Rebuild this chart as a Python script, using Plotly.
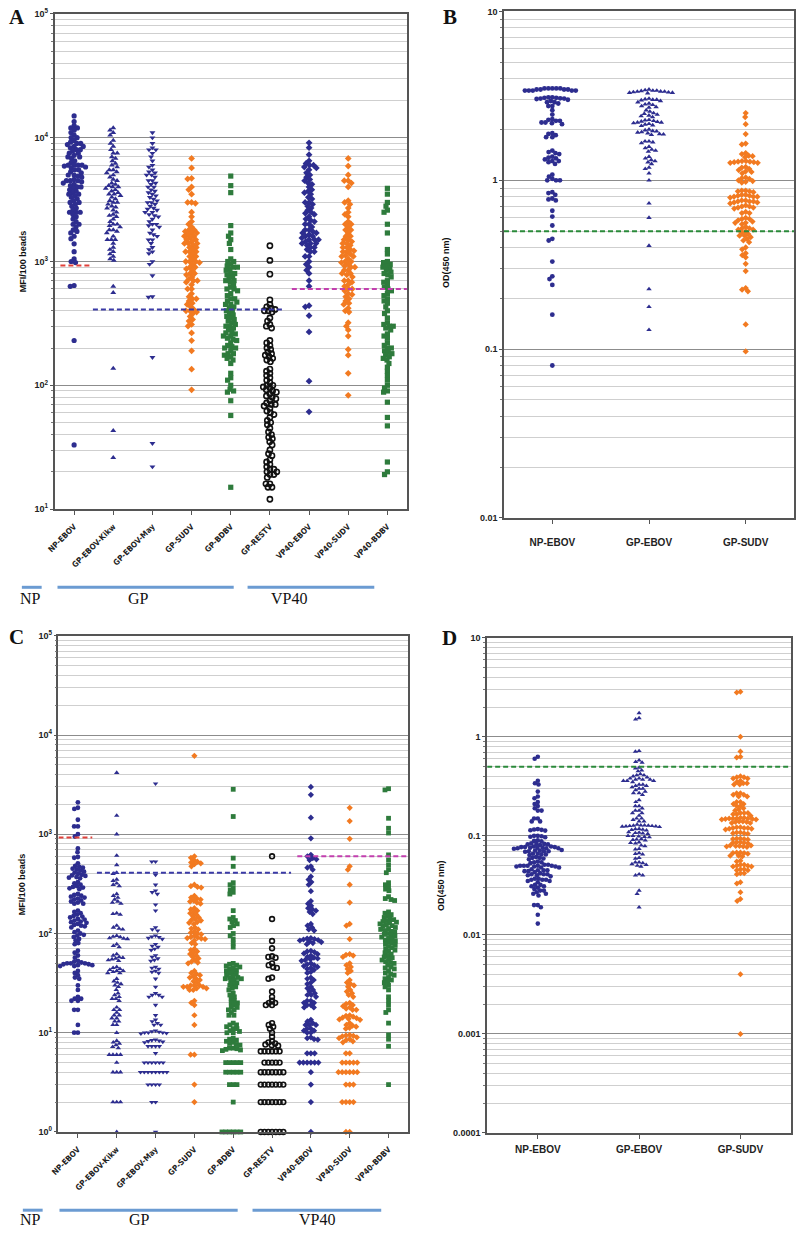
import math
import numpy as np
import plotly.graph_objects as go

# ---------------- DATA ----------------
mfi_labels = ["NP-EBOV", "GP-EBOV-Kikw", "GP-EBOV-May", "GP-SUDV", "GP-BDBV",
              "GP-RESTV", "VP40-EBOV", "VP40-SUDV", "VP40-BDBV"]
od_labels = ["NP-EBOV", "GP-EBOV", "GP-SUDV"]

# Panel A (MFI/100 beads)
a_np = [15000, 13500, 12500, 12000, 12000, 11500, 11000, 10500, 10000, 10000, 9500, 9200, 9000, 9000, 8800,
        8500, 8500, 8300, 8000, 8000, 7800, 7500, 7500, 7200, 7000, 7000, 6800, 6500, 6300, 6000, 6000, 6000,
        6000, 5900, 5800, 5700, 5500, 5500, 5300, 5200, 5000, 5000, 4900, 4800, 4600, 4500, 4500, 4500, 4400,
        4300, 4200, 4100, 4000, 4000, 3900, 3800, 3700, 3600, 3500, 3500, 3400, 3300, 3200, 3100, 3000, 3000,
        2900, 2800, 2700, 2600, 2500, 2500, 2500, 2400, 2300, 2200, 2100, 2000, 2000, 1900, 1800, 1750, 1700,
        1600, 1530, 1390, 1200, 1050, 1000, 980, 640, 630, 230, 33]
a_kikw = [12000, 11500, 11000, 10500, 9500, 9000, 8500, 8000, 7500, 7500, 7000, 6800, 6500, 6200, 6000, 5800,
          5500, 5500, 5300, 5200, 5000, 4800, 4600, 4500, 4300, 4200, 4100, 4000, 4000, 3900, 3800, 3700, 3600,
          3500, 3500, 3400, 3300, 3200, 3100, 3000, 3000, 2900, 2800, 2750, 2700, 2600, 2500, 2400, 2350, 2300,
          2200, 2100, 2000, 2000, 1950, 1900, 1800, 1800, 1750, 1700, 1600, 1500, 1500, 1500, 1400, 1300, 1250,
          1200, 1150, 1100, 1050, 1020, 630, 560, 137, 43, 26]
a_may = [11000, 10000, 9000, 8300, 8000, 8000, 7500, 7000, 6500, 6000, 5800, 5500, 5300, 5200, 5000, 5000, 4800,
         4500, 4500, 4300, 4200, 4000, 4000, 3800, 3700, 3600, 3500, 3400, 3300, 3200, 3100, 3000, 3000, 2900,
         2800, 2700, 2650, 2600, 2500, 2500, 2400, 2350, 2300, 2200, 2100, 2000, 2000, 1950, 1900, 1800, 1700,
         1650, 1600, 1500, 1500, 1400, 1300, 1250, 1200, 1160, 1000, 950, 770, 520, 515, 168, 34, 22]
a_sudv = [6800, 5700, 4700, 4650, 4000, 3800, 3500, 3000, 3000, 2950, 2500, 2300, 2100, 2000, 1900, 1800, 1800,
          1750, 1700, 1700, 1650, 1600, 1600, 1550, 1500, 1500, 1450, 1400, 1400, 1400, 1350, 1300, 1300, 1250,
          1200, 1200, 1200, 1150, 1100, 1100, 1050, 1000, 1000, 1000, 980, 950, 900, 900, 870, 850, 800, 800,
          780, 750, 720, 700, 700, 680, 650, 600, 600, 550, 520, 500, 500, 480, 460, 450, 430, 410, 400, 400,
          390, 380, 360, 340, 330, 310, 300, 265, 230, 190, 135, 92]
a_bdbv = [4900, 4100, 3600, 1950, 1700, 1600, 1500, 1400, 1250, 1050, 1000, 1000, 950, 920, 900, 900, 870, 850,
          800, 800, 780, 750, 730, 700, 700, 680, 650, 620, 600, 600, 580, 550, 530, 500, 500, 480, 470, 450,
          450, 430, 420, 400, 400, 380, 370, 360, 350, 340, 330, 320, 310, 300, 300, 290, 280, 270, 265, 260,
          250, 250, 240, 235, 230, 220, 210, 205, 200, 200, 190, 180, 180, 175, 170, 165, 160, 150, 125, 115,
          110, 100, 93, 90, 88, 75, 57, 15]
a_restv = [1340, 1020, 790, 490, 450, 430, 420, 410, 400, 400, 390, 350, 330, 310, 300, 290, 230, 220, 210, 200,
           195, 185, 180, 175, 170, 165, 160, 155, 135, 130, 125, 120, 115, 110, 105, 100, 100, 97, 95, 92, 90,
           88, 85, 82, 80, 78, 75, 72, 70, 70, 68, 65, 62, 60, 58, 55, 52, 50, 48, 45, 42, 40, 38, 37, 35, 33,
           30, 28, 27, 25, 24, 23, 22, 21, 21, 20, 20, 19, 19, 18, 16, 16, 15, 15, 12]
a_vp_ebov = [9100, 8300, 7300, 6500, 6200, 6000, 6000, 5800, 5700, 5500, 5200, 5000, 4800, 4600, 4500, 4300,
             4200, 4000, 3800, 3700, 3600, 3500, 3300, 3200, 3000, 3000, 2900, 2800, 2700, 2600, 2500, 2450, 2400,
             2300, 2200, 2150, 2100, 2000, 2000, 1900, 1800, 1800, 1750, 1700, 1700, 1650, 1600, 1600, 1550, 1500,
             1500, 1500, 1450, 1400, 1400, 1400, 1350, 1300, 1300, 1250, 1200, 1200, 1100, 1100, 1000, 950, 900,
             850, 800, 700, 630, 440, 430, 365, 270, 108, 61]
a_vp_sudv = [6800, 5900, 5000, 4500, 4500, 4300, 4000, 3100, 3000, 2900, 2700, 2500, 2400, 2300, 2100, 2000,
             2000, 1900, 1800, 1800, 1700, 1600, 1600, 1500, 1500, 1450, 1400, 1400, 1350, 1300, 1300, 1250, 1220,
             1200, 1200, 1150, 1120, 1100, 1100, 1050, 1000, 1000, 980, 950, 920, 900, 900, 850, 850, 800, 800,
             780, 750, 700, 700, 680, 650, 630, 600, 600, 580, 550, 540, 520, 500, 480, 460, 450, 420, 400, 390,
             320, 300, 280, 250, 195, 175, 125, 83]
a_vp_bdbv = [3900, 3500, 3000, 2800, 2600, 2500, 2000, 1700, 1250, 1150, 1000, 980, 950, 920, 900, 880, 850, 820,
             800, 780, 750, 700, 680, 650, 620, 600, 580, 550, 530, 500, 480, 460, 430, 400, 380, 350, 320, 310,
             300, 300, 290, 280, 260, 250, 240, 220, 210, 200, 200, 190, 185, 180, 175, 170, 165, 160, 150, 140,
             130, 120, 110, 100, 95, 90, 88, 73, 55, 47, 24, 20, 19]

# Panel C (MFI/100 beads)
c_np = [2100, 1850, 1800, 1400, 1200, 1200, 1000, 950, 720, 660, 590, 580, 510, 480, 470, 460, 450, 440, 430,
        420, 410, 400, 390, 385, 380, 370, 365, 360, 330, 320, 310, 300, 295, 290, 285, 280, 250, 245, 240, 235,
        230, 225, 220, 215, 210, 205, 200, 200, 170, 165, 160, 155, 150, 148, 145, 140, 138, 135, 132, 130, 128,
        125, 122, 120, 118, 115, 107, 103, 100, 97, 95, 92, 88, 85, 80, 78, 67, 64, 60, 57, 53, 52, 51, 50, 50,
        50, 49, 49, 48, 48, 47, 47, 42, 40, 38, 36, 35, 30, 27, 23, 22, 22, 21, 21, 17, 17, 12, 10, 10]
c_kikw = [4170, 1540, 1000, 610, 490, 410, 400, 350, 340, 320, 310, 300, 250, 240, 230, 220, 210, 205, 200, 160,
          158, 155, 120, 115, 112, 110, 95, 93, 92, 90, 89, 88, 78, 75, 73, 62, 60, 58, 57, 56, 55, 54, 53, 46,
          45, 44, 43, 42, 42, 41, 40, 40, 35, 33, 32, 31, 30, 29, 27, 25, 24, 23, 22, 22, 21, 18, 17, 17, 16, 15,
          15, 14, 14, 13, 13, 12, 12, 10, 8.3, 8, 7.8, 7.5, 7.2, 7, 6, 6, 6, 6, 5, 4, 4, 4, 2, 2, 2, 1]
c_may = [3240, 530, 530, 390, 310, 270, 260, 250, 195, 170, 115, 110, 107, 95, 93, 92, 90, 88, 78, 75, 73, 70,
         68, 60, 58, 56, 54, 53, 46, 45, 44, 42, 41, 40, 35, 29, 25, 24, 24, 23, 23, 19, 15, 13.5, 13, 12.5, 12,
         12, 10.5, 10.3, 10.2, 10, 10, 10, 9.9, 9.8, 8.5, 8.4, 8.3, 8.2, 8.1, 8, 7.3, 7.3, 7.3, 7.3, 6.2, 5, 5, 5,
         5, 5, 5, 4, 4, 4, 4, 4, 4, 4, 4, 3, 3, 3, 3, 2, 2, 1]
c_sudv = [6170, 600, 580, 550, 530, 520, 510, 500, 475, 310, 300, 295, 290, 240, 230, 225, 220, 215, 210, 205,
          200, 180, 175, 170, 165, 160, 155, 150, 145, 140, 137, 135, 130, 128, 125, 115, 112, 110, 105, 102, 100,
          98, 95, 92, 91, 90, 89, 88, 85, 80, 78, 70, 68, 66, 64, 62, 60, 58, 56, 54, 52, 51, 50, 42, 40, 39, 38,
          37, 36, 35, 34, 33, 32, 30, 30, 30, 29, 29, 29, 28, 28, 27, 27, 21, 20, 19, 15, 12, 6, 6, 3, 2]
c_bdbv = [2840, 1510, 575, 475, 325, 310, 290, 275, 260, 250, 170, 145, 140, 135, 130, 125, 120, 115, 100, 95, 88,
          80, 73, 50, 49, 48, 47, 46, 45, 44, 43, 42, 41, 40, 39, 38, 37, 36, 36, 35, 35, 34, 33, 32, 31, 30, 29,
          28, 27, 25, 24, 23, 22, 21, 20, 20, 19, 18, 18, 17, 17, 16, 15, 15, 12.5, 12, 12, 11.5, 11, 11, 10.5,
          10.3, 10, 10, 8.8, 8.6, 8.4, 8.2, 8, 7.8, 7.6, 7.5, 7, 7, 6.9, 6.8, 6.7, 6.6, 5, 5, 5, 5, 5, 4, 4, 4, 4,
          4, 3, 3, 3, 2, 1, 1, 1, 1, 1, 1]
c_restv = [600, 140, 84, 71, 59, 58, 57, 50, 48, 46, 45, 36, 35, 26, 23, 21, 20, 20, 19, 19, 12.5, 12, 11.5, 11,
           10, 9.1, 8.2, 8, 7.8, 7.6, 7.5, 7.4, 6.5, 6.5, 6.5, 6.5, 6.5, 6.5, 5, 5, 5, 5, 5, 4, 4, 4, 4, 4, 4, 4,
           3, 3, 3, 3, 3, 3, 3, 2, 2, 2, 2, 2, 2, 2, 1, 1, 1, 1, 1, 1, 1]
c_vp_ebov = [3000, 2500, 1470, 910, 620, 600, 575, 560, 550, 475, 460, 440, 375, 350, 330, 310, 267, 212, 200,
             190, 180, 175, 170, 165, 157, 125, 120, 115, 110, 107, 90, 89, 88, 87, 86, 85, 83, 82, 80, 78, 67, 66,
             65, 63, 62, 60, 58, 57, 56, 55, 54, 53, 50, 49, 48, 47, 46, 45, 44, 43, 41, 40, 36, 35, 34, 32, 31,
             29, 28, 27, 26, 25, 24, 24, 23, 21, 21, 20, 20, 19, 19, 18, 18, 13.5, 13, 12.5, 12, 12, 12, 11, 11,
             10.5, 10.5, 10, 10, 9, 8.8, 8.6, 8.5, 6.2, 6.2, 6.2, 5, 5, 5, 5, 5, 5, 4, 3, 2, 1]
c_vp_sudv = [1850, 1360, 900, 475, 440, 310, 205, 125, 120, 88, 62, 61, 60, 58, 50, 48, 46, 44, 42, 40, 34, 32,
             31, 30, 29, 27, 26, 25, 24, 23, 20, 19.5, 19, 18.5, 18, 17.5, 17, 17, 15, 14.8, 14.5, 14.2, 14, 13.8,
             13.6, 13.5, 12.5, 12, 11.8, 11.5, 11.2, 11, 9.5, 9.4, 9.3, 9.2, 9, 8.8, 8.6, 8.4, 8.2, 8, 6.2, 6.2, 5,
             5, 5, 5, 5, 4, 4, 4, 4, 4, 4, 3, 3, 3, 2, 2, 2, 2, 1, 1]
c_vp_bdbv = [2880, 2800, 1450, 1150, 1030, 620, 550, 490, 440, 410, 325, 310, 295, 280, 270, 235, 225, 220, 215,
             165, 160, 155, 150, 145, 140, 138, 135, 132, 130, 128, 125, 122, 120, 118, 115, 112, 110, 107, 105,
             103, 100, 98, 96, 94, 92, 90, 88, 86, 84, 82, 80, 78, 76, 74, 72, 70, 68, 66, 64, 62, 60, 58, 57, 55,
             54, 52, 51, 50, 48, 46, 45, 44, 42, 40, 39, 38, 36, 35, 34, 33, 32, 30, 29, 27, 23, 21, 19, 17, 16,
             12.5, 9.5, 8.6, 7.3, 3]

# Panel B (OD 450 nm)
b_np = [3.5, 3.5, 3.5, 3.5, 3.5, 3.45, 3.45, 3.45, 3.45, 3.4, 3.4, 3.4, 3.4, 3.4,
        3.1, 3.1, 3.08, 3.08, 3.06, 3.05, 3.05, 3.03, 3.0, 2.95, 2.9, 2.9, 2.85, 2.75, 2.75, 2.6, 2.45,
        2.3, 2.28, 2.25, 2.25, 2.2, 2.2, 2.18, 2.15, 1.9, 1.88, 1.85, 1.8, 1.8, 1.5, 1.47, 1.45, 1.43, 1.38, 1.36,
        1.35, 1.33, 1.3, 1.3, 1.28, 1.25, 1.08, 1.05, 1.02, 1.0, 1.0, 1.0, 0.85, 0.84, 0.82, 0.78, 0.77, 0.76,
        0.66, 0.61, 0.54, 0.45, 0.44, 0.33, 0.27, 0.26, 0.24, 0.16, 0.08]
b_gp = [3.45, 3.42, 3.4, 3.4, 3.38, 3.36, 3.35, 3.35, 3.33, 3.32, 3.3, 3.3, 3.28, 3.05, 3.02, 3.0, 3.0, 2.98,
        2.95, 2.9, 2.85, 2.82, 2.8, 2.75, 2.72, 2.7, 2.6, 2.55, 2.5, 2.48, 2.45, 2.42, 2.4, 2.37, 2.28, 2.27, 2.25,
        2.23, 2.22, 2.2, 2.2, 2.18, 2.16, 2.14, 2.12, 2.1, 2.0, 1.98, 1.96, 1.95, 1.93, 1.92, 1.9, 1.88, 1.87,
        1.86, 1.7, 1.7, 1.68, 1.66, 1.58, 1.55, 1.52, 1.5, 1.48, 1.38, 1.35, 1.32, 1.3, 1.28, 1.25, 1.19, 1.17,
        1.1, 1.0, 0.73, 0.6, 0.41, 0.227, 0.178, 0.13]
b_sudv = [2.5, 2.37, 2.15, 1.88, 1.65, 1.63, 1.45, 1.43, 1.4, 1.39, 1.37, 1.3, 1.3, 1.29, 1.29, 1.28, 1.28, 1.27,
          1.27, 1.2, 1.19, 1.17, 1.15, 1.13, 1.12, 1.1, 1.04, 1.03, 1.02, 1.0, 0.99, 0.98, 0.97, 0.87, 0.87, 0.86,
          0.86, 0.85, 0.82, 0.82, 0.81, 0.81, 0.8, 0.8, 0.8, 0.79, 0.76, 0.76, 0.75, 0.75, 0.75, 0.74, 0.74, 0.73,
          0.71, 0.7, 0.7, 0.69, 0.69, 0.68, 0.65, 0.64, 0.64, 0.6, 0.59, 0.59, 0.58, 0.57, 0.56, 0.56, 0.55, 0.53,
          0.52, 0.52, 0.51, 0.51, 0.5, 0.49, 0.48, 0.47, 0.47, 0.46, 0.45, 0.44, 0.43, 0.4, 0.39, 0.37, 0.36,
          0.35, 0.32, 0.29, 0.23, 0.225, 0.22, 0.14, 0.097]

# Panel D (OD 450 nm)
d_np = [0.63, 0.6, 0.36, 0.34, 0.33, 0.28, 0.25, 0.24, 0.22, 0.21, 0.2, 0.19, 0.18, 0.18, 0.15, 0.15, 0.14, 0.14,
        0.117, 0.116, 0.115, 0.114, 0.113, 0.1, 0.1, 0.099, 0.098, 0.097, 0.09, 0.089, 0.088, 0.084, 0.083,
        0.083, 0.082, 0.082, 0.081, 0.078, 0.078, 0.077, 0.077, 0.077, 0.076, 0.076, 0.076, 0.075, 0.075, 0.075,
        0.074, 0.072, 0.071, 0.071, 0.07, 0.07, 0.07, 0.069, 0.066, 0.066, 0.065, 0.065, 0.064, 0.061, 0.06,
        0.06, 0.059, 0.058, 0.055, 0.054, 0.054, 0.053, 0.051, 0.051, 0.05, 0.05, 0.05, 0.05, 0.05, 0.049, 0.049,
        0.049, 0.048, 0.048, 0.046, 0.045, 0.045, 0.045, 0.044, 0.044, 0.043, 0.042, 0.041, 0.041, 0.041, 0.04,
        0.04, 0.039, 0.037, 0.037, 0.036, 0.036, 0.036, 0.035, 0.035, 0.034, 0.032, 0.032, 0.031, 0.031, 0.03,
        0.029, 0.028, 0.028, 0.027, 0.026, 0.026, 0.025, 0.02, 0.02, 0.019, 0.016, 0.013]
d_gp = [1.74, 1.55, 1.5, 0.72, 0.71, 0.58, 0.56, 0.55, 0.49, 0.48, 0.46, 0.45, 0.42, 0.41, 0.41, 0.4, 0.39,
        0.38, 0.38, 0.37, 0.37, 0.37, 0.36, 0.36, 0.36, 0.35, 0.33, 0.33, 0.32, 0.32, 0.31, 0.3, 0.3, 0.29, 0.28,
        0.27, 0.27, 0.26, 0.23, 0.22, 0.2, 0.2, 0.19, 0.18, 0.18, 0.17, 0.17, 0.16, 0.15, 0.15, 0.145, 0.14, 0.14,
        0.13, 0.128, 0.128, 0.127, 0.127, 0.126, 0.126, 0.125, 0.125, 0.124, 0.123, 0.118, 0.117, 0.116, 0.115,
        0.114, 0.109, 0.108, 0.107, 0.106, 0.105, 0.1, 0.1, 0.099, 0.098, 0.097, 0.093, 0.092, 0.091, 0.09,
        0.086, 0.085, 0.084, 0.08, 0.079, 0.074, 0.073, 0.067, 0.066, 0.065, 0.06, 0.059, 0.054, 0.054, 0.053,
        0.052, 0.051, 0.05, 0.049, 0.041, 0.04, 0.04, 0.028, 0.026, 0.019]
d_sudv = [2.85, 2.8, 1.0, 0.71, 0.63, 0.62, 0.4, 0.39, 0.39, 0.38, 0.38, 0.36, 0.35, 0.34, 0.34, 0.33, 0.33, 0.27,
          0.27, 0.26, 0.26, 0.25, 0.25, 0.22, 0.22, 0.21, 0.21, 0.2, 0.2, 0.19, 0.185, 0.18, 0.17, 0.17, 0.17,
          0.165, 0.165, 0.16, 0.152, 0.152, 0.15, 0.15, 0.15, 0.15, 0.148, 0.148, 0.146, 0.146, 0.14, 0.14, 0.138,
          0.138, 0.135, 0.135, 0.122, 0.122, 0.12, 0.12, 0.12, 0.118, 0.118, 0.116, 0.108, 0.108, 0.106, 0.106,
          0.105, 0.094, 0.094, 0.093, 0.093, 0.092, 0.086, 0.086, 0.085, 0.085, 0.084, 0.08, 0.08, 0.079, 0.079,
          0.078, 0.078, 0.077, 0.068, 0.068, 0.067, 0.067, 0.066, 0.063, 0.063, 0.062, 0.056, 0.055, 0.051,
          0.051, 0.05, 0.05, 0.049, 0.049, 0.046, 0.046, 0.045, 0.045, 0.042, 0.042, 0.041, 0.034, 0.033, 0.027,
          0.023, 0.022, 0.004, 0.001]

# Cut-off values
mfi_cut_np, mfi_cut_gp, mfi_cut_vp40 = 930, 410, 600
od_cut = 0.5

# ---------------- HELPERS ----------------
W, H = 798, 1234
BLUE, ORANGE, GREEN, BLACK = "#2d2d8f", "#f27a21", "#2e7b3c", "#111111"


def swarm(vals, ppd, d):
    """beeswarm offsets (in px) given pixels-per-decade and min distance"""
    y = np.log10(np.asarray(vals, float)) * ppd
    order = np.argsort(-y, kind="stable")
    xs = np.zeros(len(y))
    placed = []
    for i in order:
        ivals, cands = [], [0.0]
        for j in placed:
            dy = abs(y[i] - y[j])
            if dy < d:
                dx = math.sqrt(d * d - dy * dy)
                ivals.append((xs[j] - dx, xs[j] + dx))
                cands += [xs[j] - dx, xs[j] + dx]
        cands.sort(key=abs)
        for c in cands:
            if all(not (lo + 1e-6 < c < hi - 1e-6) for lo, hi in ivals):
                xs[i] = c
                break
        placed.append(i)
    return xs


fig = go.Figure()


def add_group(vals, idx, xa, ya, ppd, ppc, d, symbol, color, size, open_=False):
    off = swarm(vals, ppd, d)
    xs = idx + off / ppc
    if open_:
        marker = dict(symbol="circle-open", size=size, color=color, line=dict(width=1.6, color=color))
    else:
        marker = dict(symbol=symbol, size=size, color=color, line=dict(width=0))
    fig.add_trace(go.Scatter(x=xs, y=vals, mode="markers", marker=marker, xaxis=xa, yaxis=ya,
                             showlegend=False, cliponaxis=False, hoverinfo="y"))


def cut_line(xa, ya, x0, x1, val, color):
    fig.add_trace(go.Scatter(x=[x0, x1], y=[val, val], mode="lines", xaxis=xa, yaxis=ya,
                             line=dict(color=color, width=2, dash="5px,3px"), showlegend=False,
                             hoverinfo="skip"))


mfi_syms = [("circle", BLUE), ("triangle-up", BLUE), ("triangle-down", BLUE), ("diamond", ORANGE),
            ("square", GREEN), ("open", BLACK), ("diamond", BLUE), ("diamond", ORANGE), ("square", GREEN)]
od_syms = [("circle", BLUE), ("triangle-up", BLUE), ("diamond", ORANGE)]

a_groups = [a_np, a_kikw, a_may, a_sudv, a_bdbv, a_restv, a_vp_ebov, a_vp_sudv, a_vp_bdbv]
c_groups = [c_np, c_kikw, c_may, c_sudv, c_bdbv, c_restv, c_vp_ebov, c_vp_sudv, c_vp_bdbv]
b_groups = [b_np, b_gp, b_sudv]
d_groups = [d_np, d_gp, d_sudv]

# Panel A: 125 px / decade, 39.6 px / category
for i, g in enumerate(a_groups):
    s, c = mfi_syms[i]
    add_group(g, i, "x", "y", 125, 39.6, 4.0, s, c, 5.2, open_=(s == "open"))
# Panel B: 171 px / decade, 97.7 px / category
for i, g in enumerate(b_groups):
    s, c = od_syms[i]
    add_group(g, i, "x2", "y2", 171, 97.7, 4.0, s, c, 4.8)
# Panel C: 100 px / decade, 39.2 px / category
for i, g in enumerate(c_groups):
    s, c = mfi_syms[i]
    add_group(g, i, "x3", "y3", 100, 39.2, 3.8, s, c, 4.8, open_=(s == "open"))
# Panel D: 100 px / decade, 102 px / category
for i, g in enumerate(d_groups):
    s, c = od_syms[i]
    add_group(g, i, "x4", "y4", 100, 102.3, 3.8, s, c, 4.6)

# cut-off lines
cut_line("x", "y", -0.35, 0.41, mfi_cut_np, "#e0403a")
cut_line("x", "y", 0.48, 5.38, mfi_cut_gp, "#3a3aa6")
cut_line("x", "y", 5.56, 8.5, mfi_cut_vp40, "#c23fae")
cut_line("x3", "y3", -0.5, 0.37, mfi_cut_np, "#e0403a")
cut_line("x3", "y3", 0.49, 5.49, mfi_cut_gp, "#3a3aa6")
cut_line("x3", "y3", 5.65, 8.5, mfi_cut_vp40, "#c23fae")
cut_line("x2", "y2", -0.5, 2.5, od_cut, "#2a8a3a")
cut_line("x4", "y4", -0.5, 2.5, od_cut, "#2a8a3a")

# ---------------- AXES ----------------
tickfont = dict(family="Liberation Sans, Arial, sans-serif", size=9, color="#222", weight="bold")
xlabfont = dict(family="Liberation Sans Narrow, DejaVu Sans Condensed, sans-serif", size=8, color="#222",
                weight="bold")


def xdom(a, b):
    return [a / W, b / W]


def ydom(top, bottom):
    return [1 - bottom / H, 1 - top / H]


def yaxis(dom, lo, hi, texts, anchor):
    return dict(type="log", range=[lo, hi], domain=dom, anchor=anchor,
                tickvals=[10 ** k for k in range(lo, hi + 1)], ticktext=texts,
                tickfont=tickfont, showline=True, linecolor="#555", linewidth=1.5, mirror=True,
                ticks="outside", ticklen=3, tickcolor="#555",
                showgrid=True, gridcolor="#8c8c8c", gridwidth=1.4,
                minor=dict(dtick="D1", showgrid=True, gridcolor="#cfcfcf", gridwidth=1.4,
                           ticks="outside", ticklen=2, tickcolor="#777"),
                zeroline=False, fixedrange=True)


def xaxis(dom, labels, anchor, angle, font, standoff):
    return dict(domain=dom, anchor=anchor, range=[-0.5, len(labels) - 0.5],
                tickvals=list(range(len(labels))), ticktext=labels, tickangle=angle, tickfont=font,
                showline=True, linecolor="#555", linewidth=1.5, mirror=True, ticks="outside", ticklen=4,
                tickcolor="#555", showgrid=False, zeroline=False, ticklabelstandoff=standoff, fixedrange=True)


sup = lambda k: "10<sup>%d</sup>" % k
od_text_b = ["0.01", "0.1", "1", "10"]
od_text_d = ["0.0001", "0.001", "0.01", "0.1", "1", "10"]
odfont = dict(family="Liberation Sans, Arial, sans-serif", size=10, color="#222", weight="bold")

fig.update_layout(
    width=W, height=H, margin=dict(l=0, r=0, t=0, b=0),
    paper_bgcolor="white", plot_bgcolor="white",
    xaxis=xaxis(xdom(47, 403), mfi_labels, "y", -45, xlabfont, 4),
    yaxis=yaxis(ydom(7, 507), 1, 5, [sup(k) for k in range(1, 6)], "x"),
    xaxis2=xaxis(xdom(501, 794), od_labels, "y2", 0, odfont, 10),
    yaxis2=yaxis(ydom(4.5, 516), -2, 1, od_text_b, "x2"),
    xaxis3=xaxis(xdom(51, 404), mfi_labels, "y3", -45, xlabfont, 4),
    yaxis3=yaxis(ydom(635, 1136), 0, 5, [sup(k) for k in range(0, 6)], "x3"),
    xaxis4=xaxis(xdom(484, 791), od_labels, "y4", 0, odfont, 2),
    yaxis4=yaxis(ydom(637, 1137), -4, 1, od_text_d, "x4"),
)

# ---------------- ANNOTATIONS ----------------
ann = []


def txt(x, y, s, size, fam, bold=False, angle=0):
    ann.append(dict(x=x / W, y=1 - y / H, xref="paper", yref="paper", text=s, showarrow=False,
                    textangle=angle, xanchor="center", yanchor="middle",
                    font=dict(family=fam, size=size, color="#111", weight="bold" if bold else "normal")))


serif = "Liberation Serif, Times New Roman, serif"
sans = "Liberation Sans, Arial, sans-serif"
txt(9, 10, "A", 21, serif, True)
txt(446, 10, "B", 21, serif, True)
txt(9, 636, "C", 21, serif, True)
txt(446, 637, "D", 21, serif, True)
txt(15, 257, "MFI/100 beads", 9, sans, True, -90)
txt(15, 886, "MFI/100 beads", 9, sans, True, -90)
txt(443, 258, "OD(450 nm)", 9, sans, True, -90)
txt(438, 887, "OD(450 nm)", 9, sans, True, -90)

# protein group labels under panels A and C
groups_under = [("NP", 14, 34, 23), ("GP", 50, 228, 132), ("VP40", 242, 370, 284)]
groups_under_c = [("NP", 15, 35, 23), ("GP", 52, 232, 133), ("VP40", 247, 377, 312)]
shapes = []
for (name, x0, x1, xt), yl, yt in [(g, 586, 597) for g in groups_under] + [(g, 1215, 1224) for g in groups_under_c]:
    shapes.append(dict(type="line", xref="paper", yref="paper", x0=x0 / W, x1=x1 / W, y0=1 - yl / H,
                       y1=1 - yl / H, line=dict(color="#6b9bd2", width=3)))
    txt(xt, yt, name, 16, serif)

fig.update_layout(annotations=ann, shapes=shapes)
fig.write_html("out.html", config={"displayModeBar": False},
               post_script="document.body.style.margin='0px';document.body.style.padding='0px';")
